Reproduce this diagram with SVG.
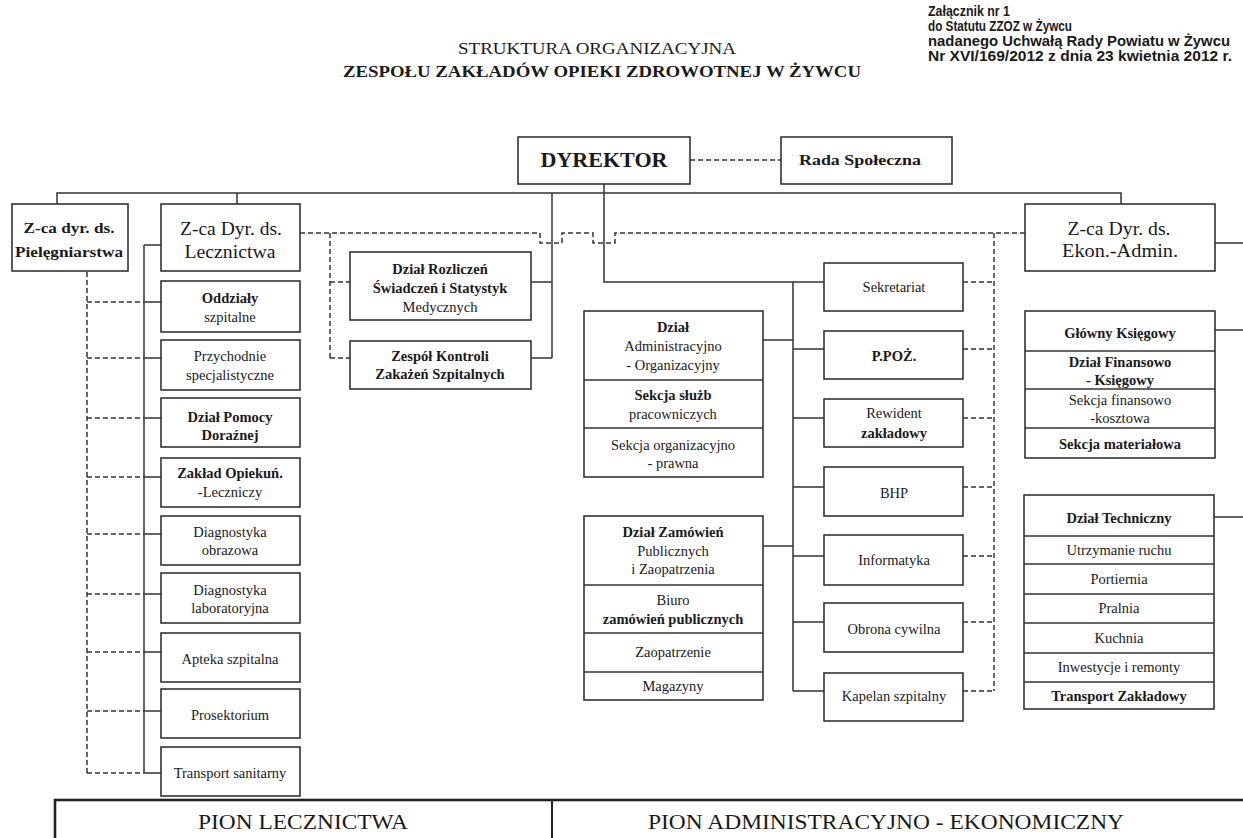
<svg xmlns="http://www.w3.org/2000/svg" width="1243" height="838" viewBox="0 0 1243 838">
<style>
.bx{fill:#fff;stroke:#333;stroke-width:1.6}
.dv{stroke:#333;stroke-width:1.6}
.c{fill:none;stroke:#333;stroke-width:1.5}
.d{fill:none;stroke:#333;stroke-width:1.5;stroke-dasharray:5 3}
text{font-family:"Liberation Serif","Times New Roman",serif;fill:#1a1a1a;text-anchor:middle}
.s{font-size:14.5px}
.b{font-weight:bold}
.h{font-size:18px}
.a{font-family:"Liberation Sans",Arial,sans-serif;font-size:14px;font-weight:bold;text-anchor:start}
</style>
<rect width="1243" height="838" fill="#fff"/>

<g id="header">
<text x="597" y="54" font-size="17" textLength="278" lengthAdjust="spacingAndGlyphs">STRUKTURA ORGANIZACYJNA</text>
<text x="602" y="77" font-size="16" class="b" textLength="518" lengthAdjust="spacingAndGlyphs">ZESPOŁU ZAKŁADÓW OPIEKI ZDROWOTNEJ W ŻYWCU</text>
<text class="a" x="928" y="16" textLength="82" lengthAdjust="spacingAndGlyphs">Załącznik nr 1</text>
<text class="a" x="928" y="31" textLength="144" lengthAdjust="spacingAndGlyphs">do Statutu ZZOZ w Żywcu</text>
<text class="a" x="928" y="46" textLength="302" lengthAdjust="spacingAndGlyphs">nadanego Uchwałą Rady Powiatu w Żywcu</text>
<text class="a" x="928" y="61" textLength="304" lengthAdjust="spacingAndGlyphs">Nr XVI/169/2012 z dnia 23 kwietnia 2012 r.</text>
</g>

<g id="connectors">
<path class="c" d="M57 204V193H1121V204M237 193V204M604 184V282H824M552 193V358M531 282H552M531 358H552"/>
<path class="c" d="M144 245H161M144 245V773M144 302H161M144 358H161M144 418H161M144 477H161M144 534H161M144 594H161M144 652H161M144 711H161M144 773H161"/>
<path class="c" d="M793 282V691M793 349H824M793 418H824M793 487H824M793 556H824M793 622H824M793 691H824M763 340H793M763 546H793"/>
<path class="c" d="M1215 243H1243M1215 330H1243M1214 517H1243"/>
<path class="d" d="M690 160H781"/>
<path class="d" d="M87 272V773M87 302H144M87 358H144M87 418H144M87 477H144M87 534H144M87 594H144M87 652H144M87 711H144M87 773H144"/>
<path class="d" d="M300 233H540V243H562V233H593V243H615V233H1025"/>
<path class="d" d="M330 233V358M330 282H350M330 358H350"/>
<path class="d" d="M994 233V691M963 282H994M963 349H994M963 418H994M963 487H994M963 556H994M963 622H994M963 691H994"/>
</g>

<g id="dyrektor"><rect class="bx" x="518" y="137" width="172" height="47"/><text x="604" y="167" font-size="20" class="b" textLength="127" lengthAdjust="spacingAndGlyphs">DYREKTOR</text></g>
<g id="rada"><rect class="bx" x="781" y="137" width="171" height="47"/><text x="860" y="165" font-size="14" class="b" textLength="122" lengthAdjust="spacingAndGlyphs">Rada Społeczna</text></g>

<g id="piel"><rect class="bx" x="12" y="204" width="116" height="67"/><text x="69" y="233" font-size="15" class="b" textLength="91" lengthAdjust="spacingAndGlyphs">Z-ca dyr. ds.</text><text x="69" y="257" font-size="14" class="b" textLength="108" lengthAdjust="spacingAndGlyphs">Pielęgniarstwa</text></g>
<g id="lecz"><rect class="bx" x="161" y="204" width="139" height="67"/><text class="h" x="231" y="235" textLength="102" lengthAdjust="spacingAndGlyphs">Z-ca Dyr. ds.</text><text class="h" x="230" y="258" textLength="91" lengthAdjust="spacingAndGlyphs">Lecznictwa</text></g>

<g id="oddzialy"><rect class="bx" x="161" y="281" width="139" height="51"/><text class="s b" x="230" y="303">Oddziały</text><text class="s" x="230" y="322">szpitalne</text></g>
<g id="przychodnie"><rect class="bx" x="161" y="340" width="139" height="50"/><text class="s" x="230" y="361">Przychodnie</text><text class="s" x="230" y="380">specjalistyczne</text></g>
<g id="pomoc"><rect class="bx" x="161" y="398" width="139" height="49"/><text class="s b" x="230" y="422">Dział Pomocy</text><text class="s b" x="230" y="440">Doraźnej</text></g>
<g id="zol"><rect class="bx" x="161" y="458" width="139" height="49"/><text class="s b" x="230" y="478">Zakład Opiekuń.</text><text class="s" x="230" y="497">-Leczniczy</text></g>
<g id="diagobr"><rect class="bx" x="161" y="516" width="139" height="49"/><text class="s" x="230" y="537">Diagnostyka</text><text class="s" x="230" y="555">obrazowa</text></g>
<g id="diaglab"><rect class="bx" x="161" y="573" width="139" height="50"/><text class="s" x="230" y="595">Diagnostyka</text><text class="s" x="230" y="613">laboratoryjna</text></g>
<g id="apteka"><rect class="bx" x="161" y="633" width="139" height="49"/><text class="s" x="230" y="664">Apteka szpitalna</text></g>
<g id="prosektorium"><rect class="bx" x="161" y="689" width="139" height="49"/><text class="s" x="230" y="720">Prosektorium</text></g>
<g id="transport"><rect class="bx" x="161" y="747" width="139" height="49"/><text class="s" x="230" y="778">Transport sanitarny</text></g>

<g id="rozliczen"><rect class="bx" x="350" y="252" width="181" height="68"/><text class="s b" x="440" y="274">Dział Rozliczeń</text><text class="s b" x="440" y="293">Świadczeń i Statystyk</text><text class="s" x="440" y="312">Medycznych</text></g>
<g id="zespol"><rect class="bx" x="350" y="341" width="181" height="48"/><text class="s b" x="440" y="361">Zespół Kontroli</text><text class="s b" x="440" y="379">Zakażeń Szpitalnych</text></g>

<g id="admorg"><rect class="bx" x="584" y="311" width="179" height="166"/><line class="dv" x1="584" y1="380" x2="763" y2="380"/><line class="dv" x1="584" y1="428" x2="763" y2="428"/>
<text class="s b" x="673" y="332">Dział</text><text class="s" x="673" y="351">Administracyjno</text><text class="s" x="673" y="370">- Organizacyjny</text>
<text class="s b" x="673" y="400">Sekcja służb</text><text class="s" x="673" y="419">pracowniczych</text>
<text class="s" x="673" y="450">Sekcja organizacyjno</text><text class="s" x="673" y="468">- prawna</text></g>

<g id="zamowien"><rect class="bx" x="584" y="516" width="179" height="184"/><line class="dv" x1="584" y1="585" x2="763" y2="585"/><line class="dv" x1="584" y1="633" x2="763" y2="633"/><line class="dv" x1="584" y1="672" x2="763" y2="672"/>
<text class="s b" x="673" y="537">Dział Zamówień</text><text class="s" x="673" y="556">Publicznych</text><text class="s" x="673" y="574">i Zaopatrzenia</text>
<text class="s" x="673" y="605">Biuro</text><text class="s b" x="673" y="624">zamówień publicznych</text>
<text class="s" x="673" y="657">Zaopatrzenie</text><text class="s" x="673" y="691">Magazyny</text></g>

<g id="sekretariat"><rect class="bx" x="824" y="263" width="139" height="48"/><text class="s" x="894" y="292">Sekretariat</text></g>
<g id="ppoz"><rect class="bx" x="824" y="331" width="139" height="48"/><text class="s b" x="894" y="361">P.POŻ.</text></g>
<g id="rewident"><rect class="bx" x="824" y="399" width="139" height="48"/><text class="s" x="894" y="418">Rewident</text><text class="s b" x="894" y="438">zakładowy</text></g>
<g id="bhp"><rect class="bx" x="824" y="467" width="139" height="49"/><text class="s" x="894" y="498">BHP</text></g>
<g id="informatyka"><rect class="bx" x="824" y="535" width="139" height="50"/><text class="s" x="894" y="565">Informatyka</text></g>
<g id="obrona"><rect class="bx" x="824" y="603" width="139" height="49"/><text class="s" x="894" y="634">Obrona cywilna</text></g>
<g id="kapelan"><rect class="bx" x="824" y="673" width="139" height="48"/><text class="s" x="894" y="701">Kapelan szpitalny</text></g>

<g id="ekon"><rect class="bx" x="1025" y="204" width="190" height="67"/><text class="h" x="1119" y="235" textLength="103" lengthAdjust="spacingAndGlyphs">Z-ca Dyr. ds.</text><text class="h" x="1120" y="257" textLength="116" lengthAdjust="spacingAndGlyphs">Ekon.-Admin.</text></g>

<g id="ksiegowy"><rect class="bx" x="1025" y="311" width="190" height="147"/><line class="dv" x1="1025" y1="351" x2="1215" y2="351"/><line class="dv" x1="1025" y1="389" x2="1215" y2="389"/><line class="dv" x1="1025" y1="428" x2="1215" y2="428"/>
<text class="s b" x="1120" y="338">Główny Księgowy</text>
<text class="s b" x="1120" y="367">Dział Finansowo</text><text class="s b" x="1120" y="385">- Księgowy</text>
<text class="s" x="1120" y="405">Sekcja finansowo</text><text class="s" x="1120" y="423">-kosztowa</text>
<text class="s b" x="1120" y="449">Sekcja materiałowa</text></g>

<g id="techniczny"><rect class="bx" x="1024" y="495" width="190" height="214"/><line class="dv" x1="1024" y1="536" x2="1214" y2="536"/><line class="dv" x1="1024" y1="564" x2="1214" y2="564"/><line class="dv" x1="1024" y1="594" x2="1214" y2="594"/><line class="dv" x1="1024" y1="623" x2="1214" y2="623"/><line class="dv" x1="1024" y1="653" x2="1214" y2="653"/><line class="dv" x1="1024" y1="682" x2="1214" y2="682"/>
<text class="s b" x="1119" y="523">Dział Techniczny</text>
<text class="s" x="1119" y="555">Utrzymanie ruchu</text>
<text class="s" x="1119" y="584">Portiernia</text>
<text class="s" x="1119" y="613">Pralnia</text>
<text class="s" x="1119" y="643">Kuchnia</text>
<text class="s" x="1119" y="672">Inwestycje i remonty</text>
<text class="s b" x="1119" y="701">Transport Zakładowy</text></g>

<g id="piony">
<rect x="55" y="800" width="1210" height="60" fill="none" stroke="#222" stroke-width="2.6"/>
<line x1="552" y1="800" x2="552" y2="838" stroke="#222" stroke-width="2"/>
<text x="303" y="829" font-size="21" textLength="210" lengthAdjust="spacingAndGlyphs">PION LECZNICTWA</text>
<text x="886" y="829" font-size="21" textLength="476" lengthAdjust="spacingAndGlyphs">PION ADMINISTRACYJNO - EKONOMICZNY</text>
</g>
</svg>
